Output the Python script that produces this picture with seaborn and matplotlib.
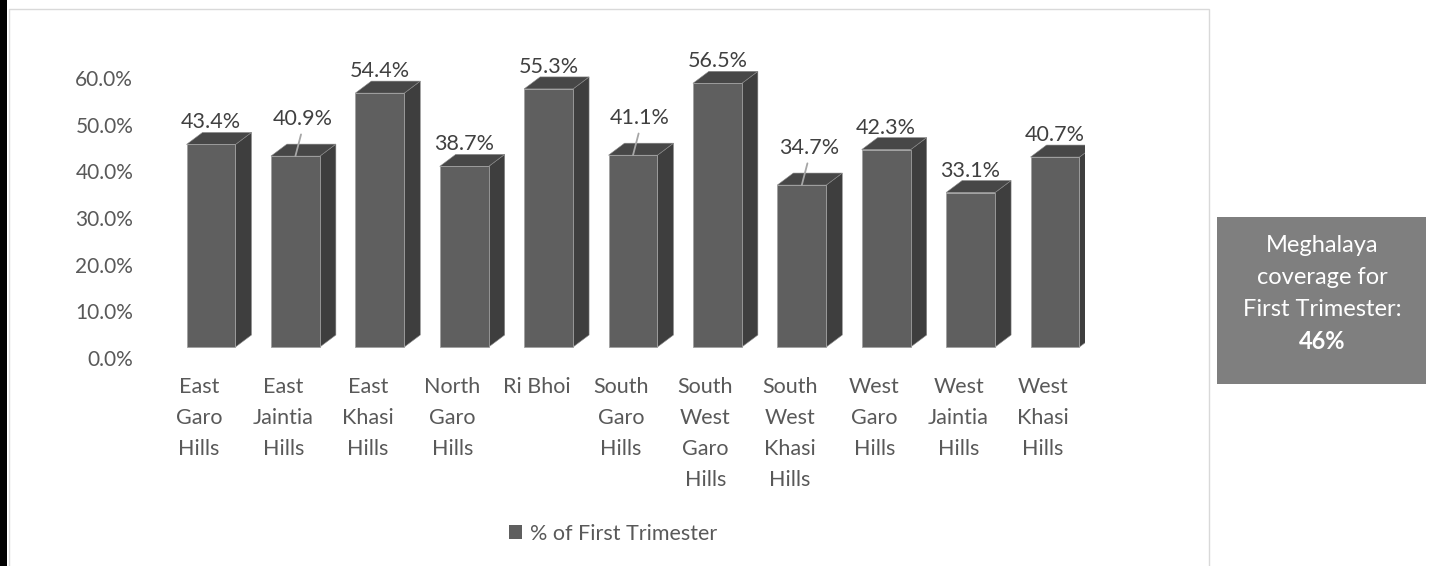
import matplotlib
matplotlib.use("Agg")
import matplotlib.pyplot as plt
from matplotlib.patches import Polygon, Rectangle, Patch
from matplotlib.transforms import ScaledTranslation
import seaborn as sns
import pandas as pd

districts = ["East Garo Hills", "East Jaintia Hills", "East Khasi Hills", "North Garo Hills",
             "Ri Bhoi", "South Garo Hills", "South West Garo Hills", "South West Khasi Hills",
             "West Garo Hills", "West Jaintia Hills", "West Khasi Hills"]
tick_labels = ["East\nGaro\nHills", "East\nJaintia\nHills", "East\nKhasi\nHills", "North\nGaro\nHills",
               "Ri Bhoi", "South\nGaro\nHills", "South\nWest\nGaro\nHills", "South\nWest\nKhasi\nHills",
               "West\nGaro\nHills", "West\nJaintia\nHills", "West\nKhasi\nHills"]
values = [43.4, 40.9, 54.4, 38.7, 55.3, 41.1, 56.5, 34.7, 42.3, 33.1, 40.7]
leader_labels = [1, 5, 7]
yticks = [0, 10, 20, 30, 40, 50, 60]
series_name = "% of First Trimester"
box_lines = ["Meghalaya", "coverage for", "First Trimester:"]
box_value = "46%"

FRONT = "#5f5f5f"
SIDE = "#3e3e3e"
TOP = "#474747"
EDGE = "#a0a0a0"

sns.set_style("white")
plt.rcParams["font.family"] = ["Lato", "DejaVu Sans"]

W, H, DPI = 1446, 566, 100
fig = plt.figure(figsize=(W / DPI, H / DPI), dpi=DPI)

# frame decorations
fig.patches.append(Rectangle((0, 0), 7 / W, 1, transform=fig.transFigure, fc="black", ec="none", zorder=0))
fig.patches.append(Rectangle((8.5 / W, -0.1), 1200 / W, 1.1 - 8.5 / H, transform=fig.transFigure,
                             fc="none", ec="#d9d9d9", lw=1.0, zorder=0))

px_x = 84.4   # pixels per category
px_y = 4.667  # pixels per percent
ymax = 62
ax_left, ax_bottom_px = 199 - 0.5 * px_x, 358
ax = fig.add_axes([ax_left / W, (H - ax_bottom_px) / H, 11 * px_x / W, ymax * px_y / H])

df = pd.DataFrame({"District": districts, "Pct": values})
sns.barplot(data=df, x="District", y="Pct", color=FRONT, saturation=1, width=0.58,
            edgecolor=EDGE, linewidth=0.6, ax=ax, zorder=3)

front_trans = ax.transData + ScaledTranslation(12 / DPI, 11 / DPI, fig.dpi_scale_trans)
dx = 16 / px_x
dy = 12 / px_y
for p in ax.patches:
    p.set_transform(front_trans)
    xl = p.get_x()
    xr = xl + p.get_width()
    h = p.get_height()
    side = Polygon([(xr, 0), (xr + dx, dy), (xr + dx, h + dy), (xr, h)], closed=True,
                   fc=SIDE, ec="#8a8a8a", lw=0.4, transform=front_trans, zorder=2)
    top = Polygon([(xl, h), (xl + dx, h + dy), (xr + dx, h + dy), (xr, h)], closed=True,
                  fc=TOP, ec="#8a8a8a", lw=0.4, transform=front_trans, zorder=2)
    ax.add_patch(side)
    ax.add_patch(top)

# data labels
for i, v in enumerate(values):
    txt = f"{v:.1f}%"
    if i in leader_labels:
        ax.annotate(txt, xy=(i, v), xycoords=front_trans, xytext=(7, 37), textcoords="offset pixels",
                    ha="center", va="center", fontsize=15.5, color="#404040",
                    arrowprops=dict(arrowstyle="-", color="#a6a6a6", lw=1.3, shrinkA=1.5, shrinkB=0,
                                    relpos=(0.5, 0.0)))
    else:
        ax.annotate(txt, xy=(i, v), xycoords=front_trans, xytext=(0, 22), textcoords="offset pixels",
                    ha="center", va="center", fontsize=15.5, color="#404040")

ax.set_xlim(-0.5, 10.5)
ax.set_ylim(0, ymax)
ax.set_yticks(yticks)
ax.set_yticklabels([f"{t:.1f}%" for t in yticks], fontsize=15, color="#595959")
ax.set_xticks(range(len(tick_labels)))
ax.set_xticklabels(tick_labels, fontsize=15.5, color="#595959", linespacing=1.67)
ax.tick_params(axis="y", length=0, pad=17)
ax.tick_params(axis="x", length=0, pad=14)
ax.set_xlabel("")
ax.set_ylabel("")
for s in ax.spines.values():
    s.set_visible(False)
ax.set_facecolor("none")
ax.grid(False)

fig.legend(handles=[Patch(fc=FRONT, ec="none")], labels=[series_name], loc="center",
           bbox_to_anchor=(613 / W, 1 - 534 / H), frameon=False, fontsize=15.5,
           handlelength=0.62, handleheight=0.62, handletextpad=0.33, labelcolor="#595959")

# summary box
fig.patches.append(Rectangle((1217 / W, 1 - 384 / H), 209 / W, 167 / H, transform=fig.transFigure,
                             fc="#7f7f7f", ec="none", zorder=1))
for k, line in enumerate(box_lines):
    fig.text(1322 / W, 1 - (245 + 32.3 * k) / H, line, ha="center", va="center",
             fontsize=17, color="white")
fig.text(1322 / W, 1 - (245 + 32.3 * 3) / H, box_value, ha="center", va="center",
         fontsize=17, color="white", fontweight="bold")

fig.savefig("out.png", dpi=DPI)
